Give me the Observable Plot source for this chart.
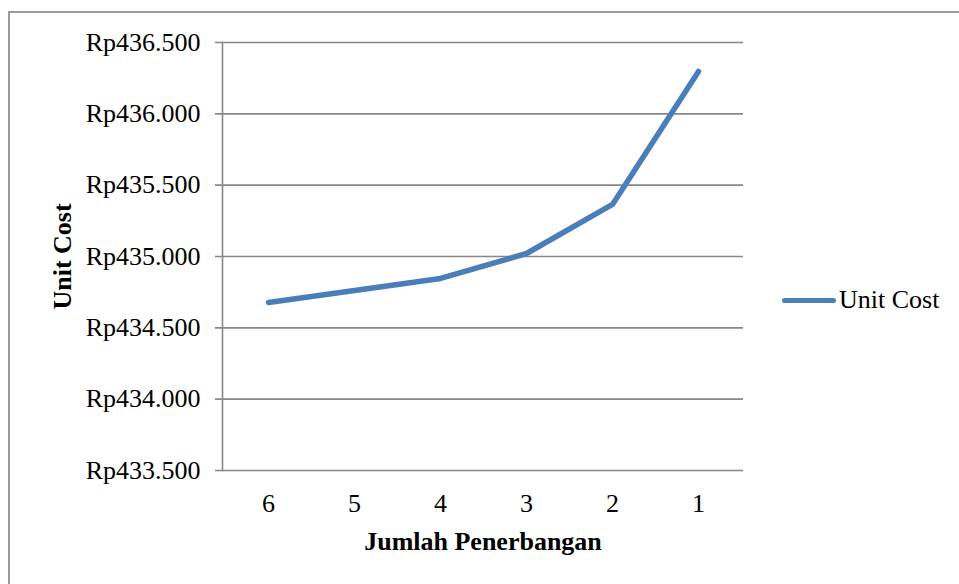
<!DOCTYPE html>
<html>
<head>
<meta charset="utf-8">
<script src="https://cdn.jsdelivr.net/npm/d3@7"></script>
<script src="https://cdn.jsdelivr.net/npm/@observablehq/plot@0.6"></script>
<style>
  html, body { margin: 0; padding: 0; background: #fff; overflow: hidden; }
  #wrap { position: relative; width: 959px; height: 584px; overflow: hidden; }
  #frame { position: absolute; left: 8px; top: 11px; width: 1000px; height: 700px;
           border: 2px solid #9a9a9a; box-sizing: border-box; }
  #chart { position: absolute; left: 0; top: 0; }
  #legend { position: absolute; left: 782px; top: 284px; height: 32px; display: flex; align-items: center;
            font-family: "Liberation Serif", "Times New Roman", serif; font-size: 26px; color: #000; }
  #legend .sw { width: 54px; height: 5px; background: #4a7ebb; border-radius: 3px; margin-right: 3px; }
</style>
</head>
<body>
<div id="wrap">
  <div id="frame"></div>
  <div id="chart"></div>
  <div id="legend"><span class="sw"></span><span>Unit Cost</span></div>
</div>
<script>
// Number of flights (shown in descending order) and the resulting unit cost
const flights = [6, 5, 4, 3, 2, 1];
const unitCost = [434678, 434762, 434846, 435021, 435365, 436297];
const yTicks = [433500, 434000, 434500, 435000, 435500, 436000, 436500];

const data = flights.map((f, i) => ({flight: String(f), cost: unitCost[i]}));

// Indonesian rupiah format: "Rp436.500"
const fmt = v => "Rp" + d3.format(",")(v).replace(/,/g, ".");

const chart = Plot.plot({
  width: 959,
  height: 584,
  marginLeft: 222,
  marginRight: 216,
  marginTop: 42,
  marginBottom: 114,
  style: {fontFamily: "'Liberation Serif', 'Times New Roman', serif", fontSize: "26px", color: "#000", background: "transparent"},
  x: {type: "point", domain: flights.map(String), padding: 0.5, label: null},
  y: {domain: [433500, 436500], label: null},
  marks: [
    // horizontal gridlines, reaching a little left of the axis as tick marks
    Plot.ruleY(yTicks, {stroke: "#878787", strokeWidth: 1.6, insetLeft: -7}),
    // vertical axis line
    Plot.frame({anchor: "left", stroke: "#878787", strokeWidth: 1.6}),
    Plot.axisY(yTicks, {tickSize: 0, tickPadding: 22, tickFormat: fmt, fontSize: 26, fill: "#000", label: null}),
    Plot.axisX({tickSize: 0, tickPadding: 23, fontSize: 26, fill: "#000", label: null}),
    Plot.line(data, {x: "flight", y: "cost", stroke: "#4a7ebb", strokeWidth: 5.5, strokeLinecap: "round", strokeLinejoin: "round"}),
    Plot.text(["Jumlah Penerbangan"], {frameAnchor: "bottom", dy: 79, fontWeight: "bold", fontSize: 26}),
    Plot.text(["Unit Cost"], {frameAnchor: "left", dx: -160, rotate: -90, textAnchor: "middle", fontWeight: "bold", fontSize: 26})
  ]
});
document.getElementById("chart").append(chart);
</script>
</body>
</html>
